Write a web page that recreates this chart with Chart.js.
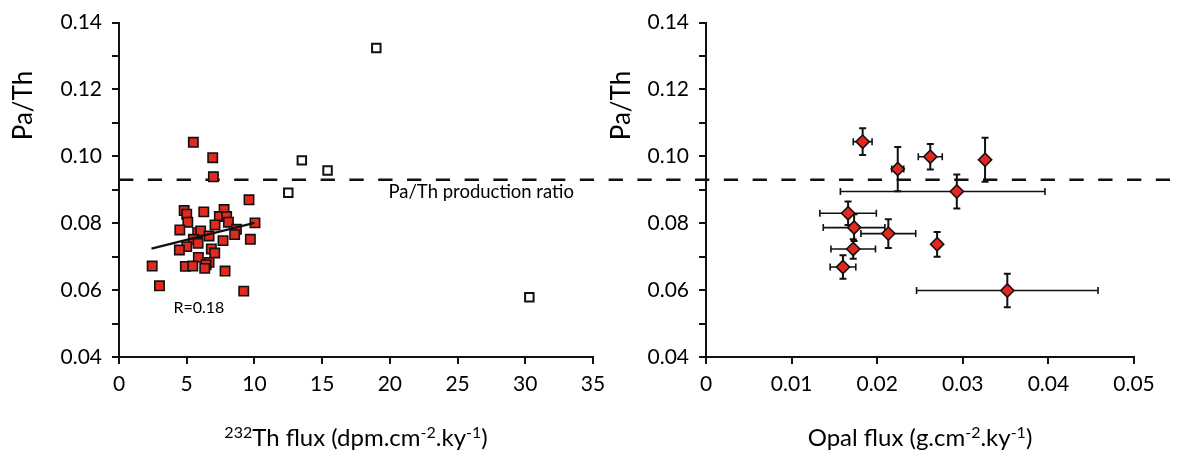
<!DOCTYPE html>
<html><head><meta charset="utf-8">
<script src="https://cdn.jsdelivr.net/npm/chart.js@4.4.1/dist/chart.umd.min.js"></script>
<style>
html,body{margin:0;padding:0;background:#fff;}
#wrap{position:relative;width:1194px;height:457px;overflow:hidden;background:#fff;}
#c1{position:absolute;left:0;top:0;}
#c2{position:absolute;left:600px;top:0;}
</style></head><body>
<div id="wrap"><canvas id="c1" width="620" height="457"></canvas><canvas id="c2" width="594" height="457"></canvas></div>
<script>
// ---------- data: left panel (232Th flux vs Pa/Th) ----------
const thFlux = [5.49,6.92,6.97,9.60,4.81,5.00,6.26,7.76,7.41,7.95,5.08,8.08,10.04,7.09,4.49,8.67,8.54,5.81,6.03,6.65,5.49,5.84,7.68,9.70,5.00,4.46,6.82,7.07,5.86,6.65,2.45,4.90,5.45,6.43,6.33,7.83,2.99,9.21];
const thPaTh = [0.1042,0.0996,0.0939,0.0870,0.0838,0.0827,0.0834,0.0841,0.0820,0.0820,0.0803,0.0803,0.0801,0.0795,0.0780,0.0782,0.0766,0.0772,0.0777,0.0762,0.0752,0.0740,0.0748,0.0752,0.0730,0.0720,0.0723,0.0711,0.0698,0.0683,0.0672,0.0671,0.0672,0.0676,0.0665,0.0657,0.0613,0.0597];
const outlierFlux = [12.5,13.5,15.4,19.0,30.3];
const outlierPaTh = [0.0891,0.0988,0.0958,0.1324,0.0579];
const trendFlux = [2.4,10.0];
const trendPaTh = [0.0724,0.0801];
const thTickLabels = ['0','5','10','15','20','25','30','35'];

// ---------- data: right panel (Opal flux vs Pa/Th) ----------
const opalFlux = [0.0183,0.0224,0.0262,0.0326,0.0293,0.0166,0.0173,0.0213,0.0270,0.0172,0.0160,0.0352];
const opalPaTh = [0.1044,0.0962,0.0999,0.0990,0.0895,0.0830,0.0787,0.0769,0.0737,0.0723,0.0669,0.0599];
const opalErrMinus = [0.0011,0.0007,0.0014,0.0000,0.0136,0.0033,0.0036,0.0032,0.0000,0.0026,0.0015,0.0106];
const opalErrPlus  = [0.0011,0.0007,0.0014,0.0000,0.0103,0.0033,0.0036,0.0032,0.0000,0.0026,0.0015,0.0106];
const paThErr = [0.0040,0.0066,0.0038,0.0066,0.0051,0.0035,0.0040,0.0043,0.0037,0.0029,0.0035,0.0050];
const opalTickLabels = ['0','0.01','0.02','0.03','0.04','0.05'];

// ---------- shared texts ----------
const paThTickLabels = ['0.04','0.06','0.08','0.10','0.12','0.14'];
const productionRatio = 0.093;
const yTitle = 'Pa/Th';
// axis titles: [text, isSuperscript]
const thTitleParts = [['232',true],['Th flux (dpm.cm',false],['-2',true],['.ky',false],['-1',true],[')',false]];
const opalTitleParts = [['Opal flux (g.cm',false],['-2',true],['.ky',false],['-1',true],[')',false]];
const productionLabel = 'Pa/Th production ratio';
const rLabel = 'R=0.18';

const RED = '#E2291F';
const INK = '#111111';
const FONT = 'Lato, "Open Sans", sans-serif';
Chart.defaults.font.family = FONT;
Chart.defaults.color = '#000';

function pts(xs, ys){ return xs.map((x,i)=>({x:x, y:ys[i]})); }

function yScale(axisWidth){
  return {
    min:0.04, max:0.14,
    ticks:{ stepSize:0.01, padding:10, font:{size:21},
      callback:(v)=>{ const s=Number(v).toFixed(2); return paThTickLabels.includes(s)?s:''; } },
    grid:{ drawOnChartArea:false, drawTicks:true, tickLength:7, color:INK, lineWidth:2 },
    border:{ display:true, color:INK, width:2 },
    afterFit:(s)=>{ s.width = axisWidth; }
  };
}
function xScale(max, step, labels){
  return {
    type:'linear', min:0, max:max,
    ticks:{ stepSize:step, padding:8, font:{size:21}, maxRotation:0, autoSkip:false,
      callback:(v,i)=>labels[i] },
    grid:{ drawOnChartArea:false, drawTicks:true, tickLength:7, color:INK, lineWidth:2 },
    border:{ display:true, color:INK, width:2 },
    title:{ display:false },
    afterFit:(s)=>{ s.height = 100; }
  };
}

function drawRichTitle(ctx, parts, cx, baseline){
  const base = '24px ' + FONT, sup = '16px ' + FONT;
  let w = 0;
  parts.forEach(([t,s])=>{ ctx.font = s?sup:base; w += ctx.measureText(t).width; });
  let x = cx - w/2;
  ctx.textAlign = 'left'; ctx.textBaseline = 'alphabetic'; ctx.fillStyle = '#000';
  parts.forEach(([t,s])=>{
    ctx.font = s?sup:base;
    ctx.fillText(t, x, s ? baseline-8.5 : baseline);
    x += ctx.measureText(t).width;
  });
}

// overlay: dashed production-ratio line + titles + annotations
function overlayPlugin(cfg){
  return {
    id:'overlay_'+cfg.name,
    beforeDatasetsDraw(chart){
      const ctx = chart.ctx, ys = chart.scales.y;
      const y = ys.getPixelForValue(productionRatio);
      const x0 = cfg.lineFrom === 'area' ? chart.chartArea.left : cfg.lineFrom;
      ctx.save();
      ctx.strokeStyle = INK; ctx.lineWidth = 2.6;
      ctx.setLineDash([14.3,14.5]);
      ctx.lineDashOffset = cfg.dashOffset;
      ctx.beginPath(); ctx.moveTo(x0,y); ctx.lineTo(cfg.lineTo,y); ctx.stroke();
      ctx.restore();
      if (cfg.errorBars) cfg.errorBars(chart);
    },
    afterDraw(chart){
      const ctx = chart.ctx, ys = chart.scales.y, ca = chart.chartArea;
      ctx.save();
      ctx.fillStyle = '#000';
      ctx.font = '26px ' + FONT;
      ctx.textAlign = 'center'; ctx.textBaseline = 'middle';
      ctx.translate(cfg.yTitleX, ys.getPixelForValue(0.1152));
      ctx.rotate(-Math.PI/2);
      ctx.fillText(yTitle, 0, 0);
      ctx.restore();
      ctx.save();
      drawRichTitle(ctx, cfg.titleParts, (ca.left+ca.right)/2, chart.height - 11);
      ctx.restore();
      if (cfg.notes) cfg.notes(chart);
    }
  };
}

// ---------- left chart ----------
new Chart(document.getElementById('c1'), {
  type:'scatter',
  data:{ datasets:[
    { label:'trend', data:pts(trendFlux,trendPaTh), showLine:true, borderColor:INK, borderWidth:2.2, pointRadius:0, fill:false },
    { label:'Pa/Th vs 232Th flux', data:pts(thFlux,thPaTh), pointStyle:'rect', pointRadius:6.6,
      backgroundColor:RED, borderColor:INK, borderWidth:1.6 },
    { label:'excluded', data:pts(outlierFlux,outlierPaTh), pointStyle:'rect', pointRadius:6,
      backgroundColor:'#fff', borderColor:INK, borderWidth:2 }
  ]},
  options:{
    responsive:false, animation:false, devicePixelRatio:1, events:[],
    layout:{ padding:{ left:0, right:27, top:20, bottom:0 } },
    plugins:{ legend:{display:false}, tooltip:{enabled:false} },
    scales:{ x:xScale(35,5,thTickLabels), y:yScale(119) }
  },
  plugins:[ overlayPlugin({ name:'l', lineFrom:'area', lineTo:600, dashOffset:0, yTitleX:24, titleParts:thTitleParts,
    notes(chart){
      const ctx = chart.ctx, xs = chart.scales.x, ys = chart.scales.y;
      ctx.save(); ctx.fillStyle = '#000';
      ctx.font = '18.5px ' + FONT; ctx.textBaseline = 'middle'; ctx.textAlign = 'left';
      ctx.fillText(productionLabel, xs.getPixelForValue(19.9), ys.getPixelForValue(0.0893));
      ctx.font = '16px ' + FONT; ctx.textAlign = 'center';
      ctx.fillText(rLabel, xs.getPixelForValue(5.9), ys.getPixelForValue(0.0546));
      ctx.restore();
    } }) ]
});

// ---------- right chart ----------
function drawErrorBars(chart){
  const ctx = chart.ctx, xs = chart.scales.x, ys = chart.scales.y;
  ctx.save(); ctx.strokeStyle = INK; ctx.lineCap = 'butt';
  for (let i=0;i<opalFlux.length;i++){
    const px = xs.getPixelForValue(opalFlux[i]);
    const py = ys.getPixelForValue(opalPaTh[i]);
    if (opalErrMinus[i] > 0 || opalErrPlus[i] > 0){
      const xl = xs.getPixelForValue(opalFlux[i]-opalErrMinus[i]);
      const xr = xs.getPixelForValue(opalFlux[i]+opalErrPlus[i]);
      ctx.lineWidth = 1.6;
      ctx.beginPath(); ctx.moveTo(xl,py); ctx.lineTo(xr,py);
      ctx.moveTo(xl,py-3.5); ctx.lineTo(xl,py+3.5);
      ctx.moveTo(xr,py-3.5); ctx.lineTo(xr,py+3.5); ctx.stroke();
    }
    const yt = ys.getPixelForValue(opalPaTh[i]+paThErr[i]);
    const yb = ys.getPixelForValue(opalPaTh[i]-paThErr[i]);
    ctx.lineWidth = 2;
    ctx.beginPath(); ctx.moveTo(px,yt); ctx.lineTo(px,yb);
    ctx.moveTo(px-3.5,yt); ctx.lineTo(px+3.5,yt);
    ctx.moveTo(px-3.5,yb); ctx.lineTo(px+3.5,yb); ctx.stroke();
  }
  ctx.restore();
}

new Chart(document.getElementById('c2'), {
  type:'scatter',
  data:{ datasets:[
    { label:'Pa/Th vs opal flux', data:pts(opalFlux,opalPaTh), pointStyle:'rectRot', pointRadius:6.6,
      backgroundColor:RED, borderColor:INK, borderWidth:1.6 }
  ]},
  options:{
    responsive:false, animation:false, devicePixelRatio:1, events:[],
    layout:{ padding:{ left:0, right:60, top:20, bottom:0 } },
    plugins:{ legend:{display:false}, tooltip:{enabled:false} },
    scales:{ x:xScale(0.05,0.01,opalTickLabels), y:yScale(106) }
  },
  plugins:[ overlayPlugin({ name:'r', lineFrom:0, lineTo:570, dashOffset:481, yTitleX:22, titleParts:opalTitleParts, errorBars:drawErrorBars }) ]
});
</script>
</body></html>
